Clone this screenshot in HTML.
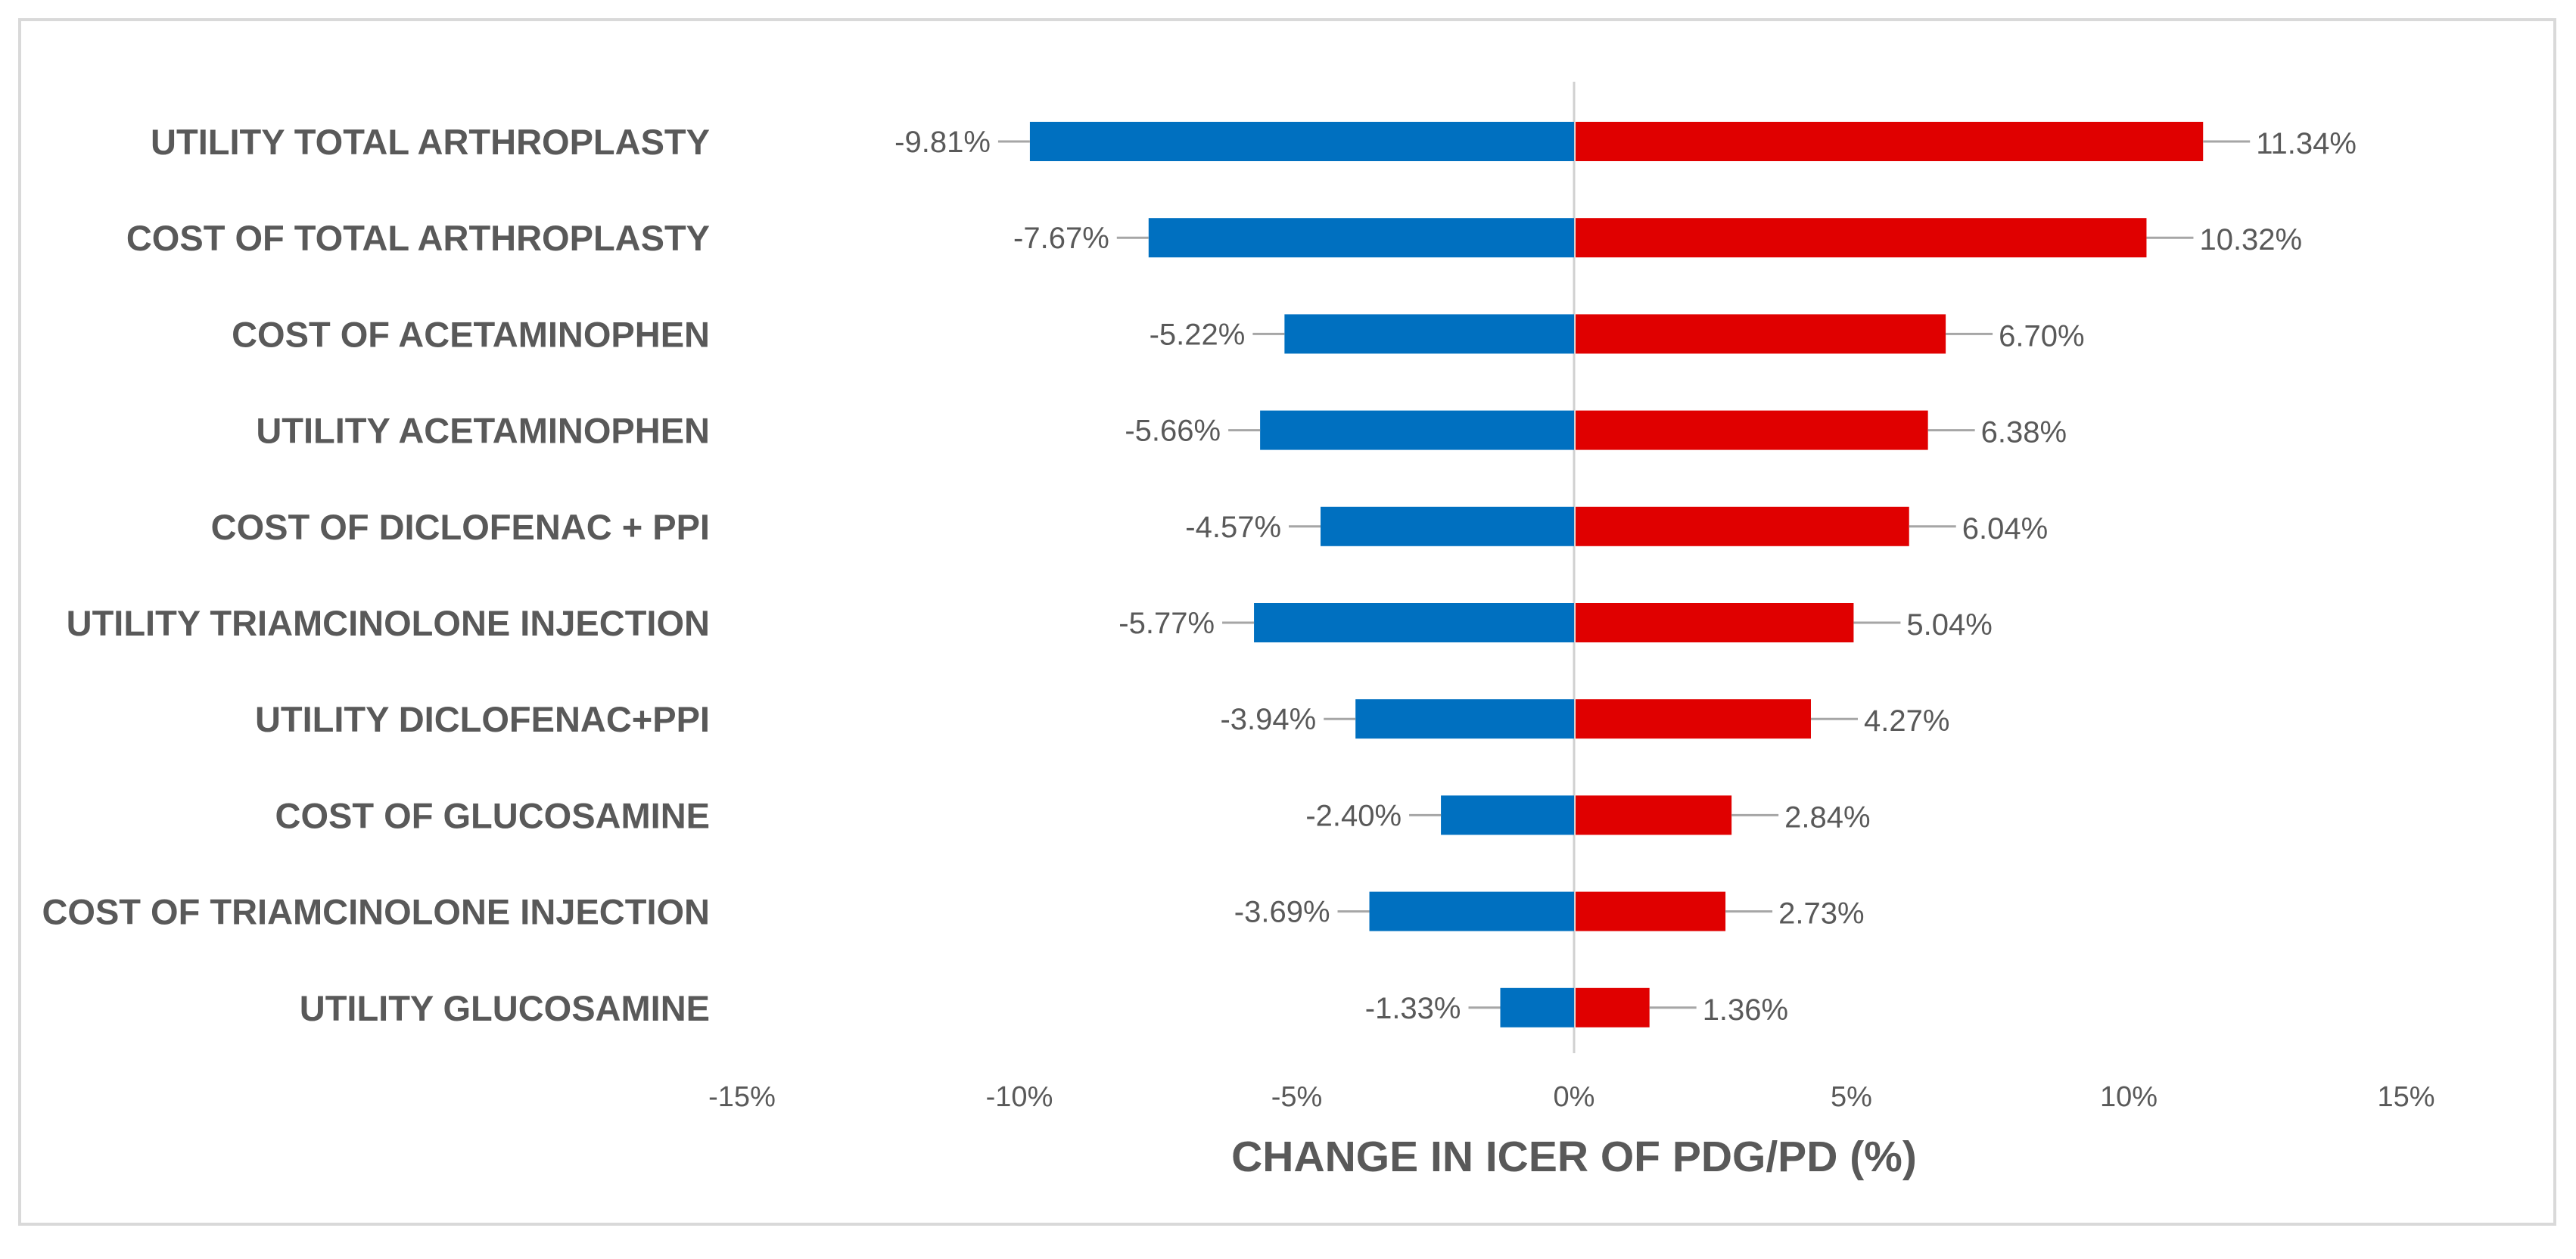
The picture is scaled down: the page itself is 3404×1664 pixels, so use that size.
<!DOCTYPE html>
<html><head><meta charset="utf-8"><style>
html,body{margin:0;padding:0;background:#fff;}
svg{display:block;font-family:"Liberation Sans",Arial,sans-serif;}
</style></head><body>
<svg id="chart" width="3404" height="1664" viewBox="0 0 3404 1664">
<rect x="26" y="26" width="3350" height="1592" fill="#fff" stroke="#d9d9d9" stroke-width="4"/>
</svg>
<script>
const categories = ["UTILITY TOTAL ARTHROPLASTY","COST OF TOTAL ARTHROPLASTY","COST OF ACETAMINOPHEN","UTILITY ACETAMINOPHEN","COST OF DICLOFENAC + PPI","UTILITY TRIAMCINOLONE INJECTION","UTILITY DICLOFENAC+PPI","COST OF GLUCOSAMINE","COST OF TRIAMCINOLONE INJECTION","UTILITY GLUCOSAMINE"];
const lowValues = [-9.81,-7.67,-5.22,-5.66,-4.57,-5.77,-3.94,-2.40,-3.69,-1.33];
const highValues = [11.34,10.32,6.70,6.38,6.04,5.04,4.27,2.84,2.73,1.36];
const xTicks = [-15,-10,-5,0,5,10,15];

const NS="http://www.w3.org/2000/svg";
const svg=document.getElementById('chart');
const x0=2080, ppu=73.3;
function xs(v){return x0+v*ppu;}
const yStart=187, yStep=127.2, barH=52;
function ys(i){return yStart+i*yStep;}
function mk(tag,attrs,parent){const e=document.createElementNS(NS,tag);for(const k in attrs)e.setAttribute(k,attrs[k]);(parent||svg).appendChild(e);return e;}

const ax=mk('line',{x1:xs(0),x2:xs(0),y1:108,y2:1392,stroke:'#d0d0d0','stroke-width':3});



categories.forEach((c,i)=>{
  const cy=ys(i);
  const t=mk('text',{x:938,y:cy+17,'text-anchor':'end','font-size':47,'font-weight':'bold',fill:'#595959'});
  t.textContent=c;
  
  

  const lv=lowValues[i], hv=highValues[i];
  const bl=mk('rect',{x:xs(lv),y:cy-barH/2,width:xs(0)-xs(lv),height:barH,fill:'#0070C0'});
  
  
  const br=mk('rect',{x:xs(0)+2,y:cy-barH/2,width:xs(hv)-xs(0)-2,height:barH,fill:'#E00000'});
  
  

  const ll=mk('line',{x1:xs(lv)-42,x2:xs(lv),y1:cy,y2:cy,stroke:'#a6a6a6','stroke-width':3});
  
  
  const lt=mk('text',{x:xs(lv)-52,y:cy+14,'text-anchor':'end','font-size':40,fill:'#595959'});
  lt.textContent=lv.toFixed(2)+'%';
  
  

  const hl=mk('line',{x1:xs(hv),x2:xs(hv)+62,y1:cy,y2:cy,stroke:'#a6a6a6','stroke-width':3});
  
  
  const ht=mk('text',{x:xs(hv)+70,y:cy+16,'text-anchor':'start','font-size':40,fill:'#595959'});
  ht.textContent=hv.toFixed(2)+'%';
  
  
});

xTicks.forEach(v=>{
  const t=mk('text',{x:xs(v),y:1462,'text-anchor':'middle','font-size':38,fill:'#595959'});
  t.textContent=v+'%';
  
  
});

const tt=mk('text',{x:xs(0),y:1548,'text-anchor':'middle','font-size':57,'font-weight':'bold',fill:'#595959'});
tt.textContent='CHANGE IN ICER OF PDG/PD (%)';


</script>
</body></html>
